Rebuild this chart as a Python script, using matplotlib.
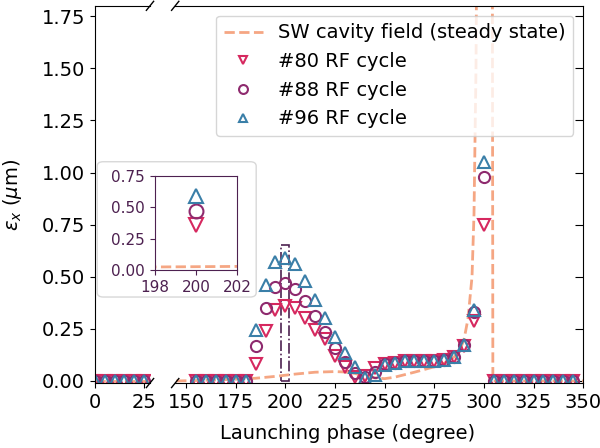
import matplotlib
matplotlib.use("Agg")
import matplotlib.pyplot as plt
from matplotlib.patches import Rectangle, FancyBboxPatch

# launching phase (deg) and emittance (um) for three RF cycles
phase_left = [0, 5, 10, 15, 20, 25]
phase_right = [155, 160, 165, 170, 175, 180, 185, 190, 195, 200, 205, 210, 215,
               220, 225, 230, 235, 240, 245, 250, 255, 260, 265, 270, 275, 280,
               285, 290, 295, 300, 305, 310, 315, 320, 325, 330, 335, 340, 345]

emit_80 = [0, 0, 0, 0, 0, 0, 0.08, 0.24, 0.34, 0.36, 0.35, 0.30, 0.245,
           0.20, 0.12, 0.065, 0.02, 0.025, 0.06, 0.08, 0.088, 0.096, 0.098, 0.098, 0.098, 0.10,
           0.117, 0.17, 0.29, 0.75, 0, 0, 0, 0, 0, 0, 0, 0, 0]
emit_88 = [0, 0, 0, 0, 0, 0, 0.17, 0.35, 0.45, 0.47, 0.44, 0.385, 0.31,
           0.235, 0.16, 0.092, 0.04, 0.02, 0.045, 0.08, 0.088, 0.096, 0.098, 0.098, 0.098, 0.10,
           0.117, 0.173, 0.33, 0.98, 0, 0, 0, 0, 0, 0, 0, 0, 0]
emit_96 = [0, 0, 0, 0, 0, 0, 0.245, 0.46, 0.57, 0.59, 0.56, 0.48, 0.39,
           0.30, 0.21, 0.133, 0.065, 0.015, 0.03, 0.075, 0.088, 0.096, 0.098, 0.098, 0.098, 0.10,
           0.117, 0.173, 0.34, 1.05, 0, 0, 0, 0, 0, 0, 0, 0, 0]
zeros_left = [0, 0, 0, 0, 0, 0]

# steady-state standing-wave cavity field
field_phase = [145, 155, 165, 175, 185, 195, 205, 215, 225, 230, 235, 240, 245, 250,
               255, 260, 265, 270, 275, 280, 285, 288, 290, 292, 294, 295, 296, 297,
               300, 304, 304.5, 310, 350]
field_emit = [0.0, 0.002, 0.005, 0.008, 0.013, 0.022, 0.033, 0.042, 0.045, 0.043, 0.036,
              0.025, 0.015, 0.011, 0.018, 0.03, 0.042, 0.055, 0.068, 0.085, 0.115, 0.15,
              0.2, 0.3, 0.5, 0.8, 1.5, 3.0, 5.0, 4.0, 0.0, 0.0, 0.0]

c80 = "#d6285f"
c88 = "#8e2a6e"
c96 = "#3a7fa8"
cfield = "#f5a683"
cbox = "#4d2150"

series = [
    ("#80 RF cycle", emit_80, "v", c80),
    ("#88 RF cycle", emit_88, "o", c88),
    ("#96 RF cycle", emit_96, "^", c96),
]

fig = plt.figure(figsize=(6.0, 4.48), dpi=100)
ax1 = fig.add_axes([0.158, 0.145, 0.092, 0.842])
ax2 = fig.add_axes([0.292, 0.145, 0.680, 0.842], sharey=ax1)

ax1.plot([0, 28], [0, 0], "--", color=cfield, lw=2)
ax2.plot(field_phase, field_emit, "--", color=cfield, lw=2,
         label="SW cavity field (steady state)")
for label, vals, mk, col in series:
    ax1.plot(phase_left, zeros_left, mk, ms=8, mfc="none", mec=col, mew=1.5)
    ax2.plot(phase_right, vals, mk, ms=8, mfc="none", mec=col, mew=1.5, label=label)

ax1.set_xlim(0, 28)
ax2.set_xlim(144.5, 350)
ax1.set_ylim(-0.01, 1.8)
ax1.set_xticks([0, 25])
ax2.set_xticks(range(150, 351, 25))
ax1.set_yticks([0, 0.25, 0.5, 0.75, 1.0, 1.25, 1.5, 1.75])

ax1.spines["right"].set_visible(False)
ax2.spines["left"].set_visible(False)
ax2.tick_params(axis="y", left=False, labelleft=False, right=True, direction="in", length=6)
for ax in (ax1, ax2):
    ax.tick_params(labelsize=14)

# break marks
d = 0.012
kw = dict(color="k", clip_on=False, lw=1)
w1 = 0.092 / 0.842
ax1.plot((1 - d / w1 * 0.6, 1 + d / w1 * 0.6), (-d, d), transform=ax1.transAxes, **kw)
ax1.plot((1 - d / w1 * 0.6, 1 + d / w1 * 0.6), (1 - d, 1 + d), transform=ax1.transAxes, **kw)
w2 = 0.680 / 0.842
ax2.plot((-d / w2 * 0.6, d / w2 * 0.6), (-d, d), transform=ax2.transAxes, **kw)
ax2.plot((-d / w2 * 0.6, d / w2 * 0.6), (1 - d, 1 + d), transform=ax2.transAxes, **kw)

ax2.add_patch(Rectangle((198, 0), 4, 0.65, fill=False, ec=cbox, ls="-.", lw=1.2))

ax2.legend(loc="upper right", fontsize=14, markerscale=0.8, handlelength=2.0)

fig.text(0.58, 0.033, "Launching phase (degree)", ha="center", va="center", fontsize=14)
fig.text(0.02, 0.565, r"$\varepsilon_x$ ($\mu$m)", ha="center", va="center",
         rotation=90, fontsize=14)

# zoomed view of phase 200
fig.patches.append(FancyBboxPatch((0.162, 0.337), 0.265, 0.302,
                                  boxstyle="round,pad=0,rounding_size=0.01",
                                  transform=fig.transFigure, fc="white",
                                  ec="#d8d8d8", lw=1, zorder=3))
axin = fig.add_axes([0.258, 0.397, 0.137, 0.21])
axin.set_zorder(4)
axin.plot(field_phase, field_emit, "--", color=cfield, lw=2)
for label, vals, mk, col in series:
    axin.plot(phase_right, vals, mk, ms=10, mfc="none", mec=col, mew=1.5)
axin.set_xlim(198, 202)
axin.set_ylim(0, 0.75)
axin.set_xticks([198, 200, 202])
axin.set_yticks([0, 0.25, 0.5, 0.75])
axin.tick_params(labelsize=11, colors=cbox)
for sp in axin.spines.values():
    sp.set_color(cbox)

fig.savefig("out.png", dpi=100)
